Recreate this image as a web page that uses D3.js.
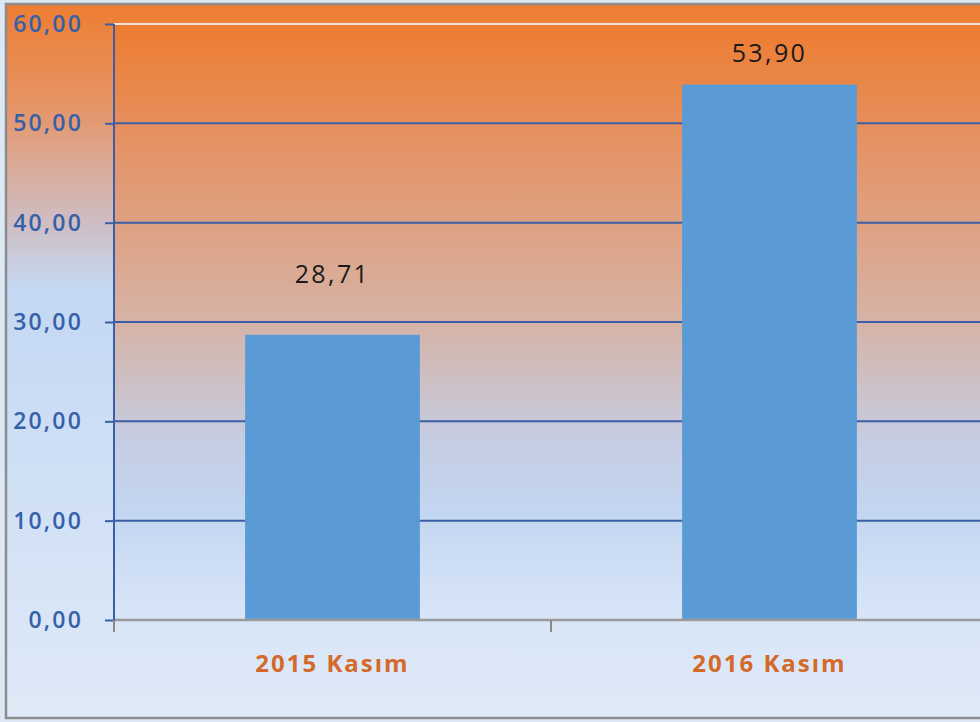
<!DOCTYPE html>
<html>
<head>
<meta charset="utf-8">
<script src="https://d3js.org/d3.v7.min.js"></script>
<style>
  body { margin: 0; background: #dce9f4; overflow: hidden; }
  text { font-family: "Open Sans", sans-serif; }
</style>
</head>
<body>
<div id="chart"></div>
<script>
/* DATA */
const categories = ["2015 Kasım", "2016 Kasım"];
const values = [28.71, 53.90];
const yTicks = [0, 10, 20, 30, 40, 50, 60];

/* LAYOUT */
const width = 980, height = 722;
const frame = { x: 6, y: 4, w: 1000, h: 714 };
const margin = { top: 24, left: 114, bottom: 102 };
const bandWidth = 437;
const labelRaise = [52, 23]; // data labels sit at different heights in the original

const fmt = v => d3.format(".2f")(v).replace(".", ",");

const svg = d3.select("#chart").append("svg")
  .attr("width", width)
  .attr("height", height);

const defs = svg.append("defs");

// chart area gradient
const g1 = defs.append("linearGradient").attr("id", "chartBg")
  .attr("x1", 0).attr("y1", 0).attr("x2", 0).attr("y2", 1);
[[0, "#ee7d31"], [0.14, "#e69466"], [0.3, "#cfbcc0"], [0.4, "#c4d8f3"], [1, "#dfeaf8"]]
  .forEach(s => g1.append("stop").attr("offset", s[0]).attr("stop-color", s[1]));

// plot area gradient
const g2 = defs.append("linearGradient").attr("id", "plotBg")
  .attr("x1", 0).attr("y1", 0).attr("x2", 0).attr("y2", 1);
[[0, "#ed7c30"], [0.25, "#e39871"], [0.5, "#d6b3a6"], [0.7, "#c5cde3"], [0.82, "#c3d6f1"], [1, "#d9e6f8"]]
  .forEach(s => g2.append("stop").attr("offset", s[0]).attr("stop-color", s[1]));

svg.append("rect")
  .attr("x", frame.x).attr("y", frame.y)
  .attr("width", frame.w).attr("height", frame.h)
  .attr("fill", "url(#chartBg)")
  .attr("stroke", "#8c8c8c")
  .attr("stroke-width", 2.5);

/* SCALES */
const xScale = d3.scaleBand()
  .domain(categories)
  .range([margin.left, margin.left + bandWidth * categories.length])
  .paddingInner(0.6).paddingOuter(0.3);

const xOuter = d3.scaleBand()
  .domain(categories)
  .range([margin.left, margin.left + bandWidth * categories.length]);

const yScale = d3.scaleLinear()
  .domain([0, 60])
  .range([height - margin.bottom, margin.top]);

svg.append("rect")
  .attr("x", margin.left).attr("y", yScale(60))
  .attr("width", width - margin.left + 20)
  .attr("height", yScale(0) - yScale(60))
  .attr("fill", "url(#plotBg)");

// gridlines
svg.append("g")
  .selectAll("line")
  .data(yTicks.filter(d => d > 0))
  .join("line")
  .attr("x1", margin.left).attr("x2", width + 10)
  .attr("y1", d => yScale(d)).attr("y2", d => yScale(d))
  .attr("stroke", d => d === 60 ? "#eee2dc" : "#3b5ea6")
  .attr("stroke-width", 2);

/* BARS */
svg.append("g")
  .selectAll("rect")
  .data(values)
  .join("rect")
  .attr("x", (d, i) => xScale(categories[i]))
  .attr("width", xScale.bandwidth())
  .attr("y", d => yScale(d))
  .attr("height", d => yScale(0) - yScale(d))
  .attr("fill", "#5b9bd5");

svg.append("g")
  .selectAll("text")
  .data(values)
  .join("text")
  .attr("x", (d, i) => xScale(categories[i]) + xScale.bandwidth() / 2)
  .attr("y", (d, i) => yScale(d) - labelRaise[i])
  .attr("text-anchor", "middle")
  .attr("font-size", 25)
  .attr("letter-spacing", 2.4)
  .attr("fill", "#1a1a1a")
  .text(d => fmt(d));

/* AXES */
const yAxis = d3.axisLeft(yScale).tickValues(yTicks).tickFormat(fmt).tickSize(9).tickPadding(22);
const yG = svg.append("g")
  .attr("transform", `translate(${margin.left},0)`)
  .call(yAxis);
yG.select(".domain").remove();
yG.selectAll("line").attr("stroke", "#3b5ea6").attr("stroke-width", 2);
yG.selectAll("text")
  .attr("font-size", 23)
  .attr("font-weight", 600)
  .attr("letter-spacing", 2.2)
  .attr("fill", "#3660a8");

// x axis baseline and ticks
const xG = svg.append("g").attr("transform", `translate(0,${yScale(0)})`);
xG.append("line")
  .attr("x1", margin.left).attr("x2", width + 10)
  .attr("stroke", "#9a9a9a").attr("stroke-width", 2.5);
xG.selectAll(".tick")
  .data(categories)
  .join("line")
  .attr("x1", d => xOuter(d) + xOuter.bandwidth())
  .attr("x2", d => xOuter(d) + xOuter.bandwidth())
  .attr("y1", 0).attr("y2", 12)
  .attr("stroke", "#8a8a8a").attr("stroke-width", 2);
xG.selectAll(".cat")
  .data(categories)
  .join("text")
  .attr("x", d => xScale(d) + xScale.bandwidth() / 2)
  .attr("y", 52)
  .attr("text-anchor", "middle")
  .attr("font-size", 24)
  .attr("font-weight", 700)
  .attr("letter-spacing", 2)
  .attr("fill", "#d4692a")
  .text(d => d);

// y axis line
svg.append("line")
  .attr("x1", margin.left).attr("x2", margin.left)
  .attr("y1", yScale(60)).attr("y2", yScale(0) + 12)
  .attr("stroke", "#3b5ea6").attr("stroke-width", 2);
svg.append("line")
  .attr("x1", margin.left).attr("x2", margin.left)
  .attr("y1", yScale(0)).attr("y2", yScale(0) + 12)
  .attr("stroke", "#8a8a8a").attr("stroke-width", 2);
</script>
</body>
</html>
